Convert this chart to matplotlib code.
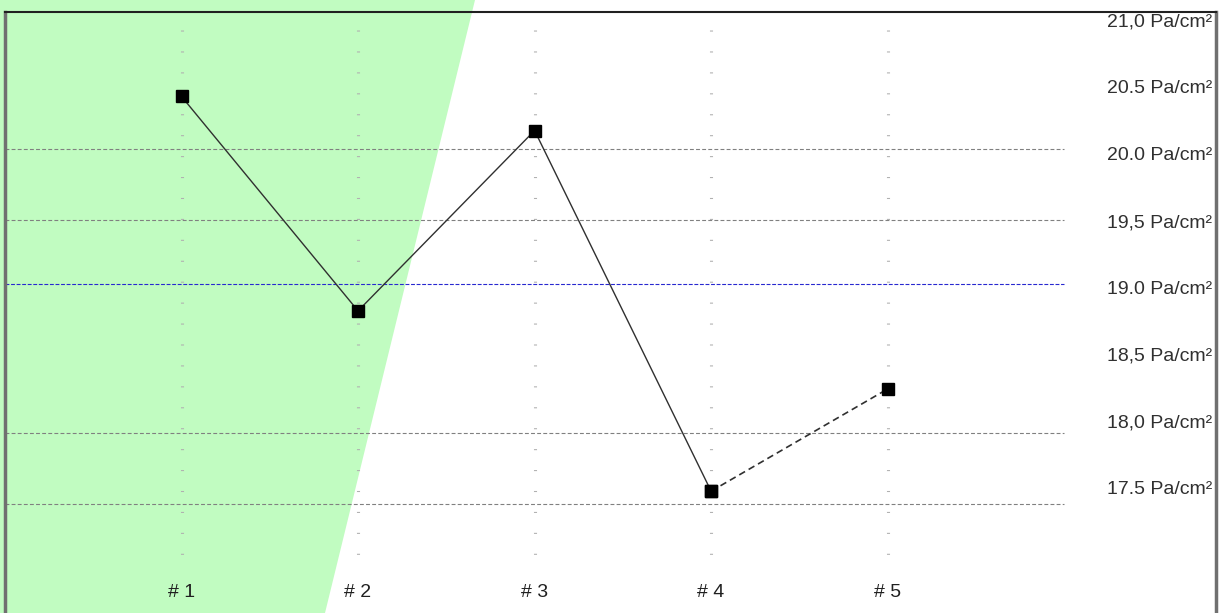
import matplotlib
matplotlib.use('Agg')
import matplotlib.pyplot as plt
from matplotlib.patches import Polygon

# DATA
categories = ['# 1', '# 2', '# 3', '# 4', '# 5']
pressure = [20.37, 18.86, 20.13, 17.59, 18.31]      # [Pa/cm²]
grid_levels = [20.0, 19.5, 18.0, 17.5]
reference_level = 19.05
tick_values = [21.0, 20.5, 20.0, 19.5, 19.0, 18.5, 18.0, 17.5]
tick_labels = ['21,0 Pa/cm²', '20.5 Pa/cm²', '20.0 Pa/cm²', '19,5 Pa/cm²',
               '19.0 Pa/cm²', '18,5 Pa/cm²', '18,0 Pa/cm²', '17.5 Pa/cm²']

plt.rcParams['font.family'] = ['Liberation Sans', 'DejaVu Sans']

W, H = 1223, 613
fig = plt.figure(figsize=(W / 100, H / 100), dpi=100)

# slanted green band behind everything (figure coords)
band = Polygon([(0, 1), (475 / W, 1), (325 / W, 0), (0, 0)], closed=True,
               transform=fig.transFigure, facecolor='#c1fcc1', edgecolor='none', zorder=-1)
fig.add_artist(band)

ax = fig.add_axes([5 / W, 0, 1211 / W, 1 - 12 / H])
ax.set_facecolor('none')
x = list(range(len(categories)))
ax.set_xlim(-1.0, 5.86)
ax.set_ylim(16.732, 20.965)

# vertical dotted guides at each category (drawn top -> bottom so the dots start at the top)
ax.vlines(x, 20.84, 17.1, colors='#b0b0b0', linestyles=(0, (0.35, 6.5)), linewidth=2.2, zorder=1)

# horizontal dashed grid and blue reference line
ax.hlines(grid_levels, -1.0, 5.0, colors='#808080', linestyles=(0, (3.5, 2)), linewidth=0.8, zorder=1)
ax.hlines(reference_level, -1.0, 5.0, colors='#2828d0', linestyles=(0, (3.5, 1.5)), linewidth=0.8, zorder=1)

# data line: solid up to #4, dashed to #5
ax.plot(x[:4], pressure[:4], color='#303030', lw=1.0, marker='s', ms=8,
        mfc='black', mec='black', zorder=3)
ax.plot(x[3:], pressure[3:], color='#303030', lw=1.2, ls=(0, (4, 2.5)), marker='s', ms=8,
        mfc='black', mec='black', zorder=3)

ax.set_xticks(x, categories)
ax.tick_params(axis='x', length=0, pad=-15, labelsize=14, labelcolor='#202020')
for lbl in ax.get_xticklabels():
    lbl.set_va('center')
ax.set_yticks([])

ax.spines['bottom'].set_visible(False)
ax.spines['left'].set_linewidth(2.5)
ax.spines['left'].set_color('#707070')
ax.spines['right'].set_linewidth(2.5)
ax.spines['right'].set_color('#707070')
ax.spines['top'].set_linewidth(1.5)
ax.spines['top'].set_color('#202020')

# right-hand value labels drawn inside the frame
ax2 = ax.twinx()
ax2.set_ylim(16.565, 21.06)
ax2.set_yticks(tick_values, tick_labels)
ax2.tick_params(axis='y', length=0, pad=-3, labelsize=14, labelcolor='#303030')
for lbl in ax2.get_yticklabels():
    lbl.set_ha('right')
for s in ax2.spines.values():
    s.set_visible(False)

fig.savefig('out.png', dpi=100)
